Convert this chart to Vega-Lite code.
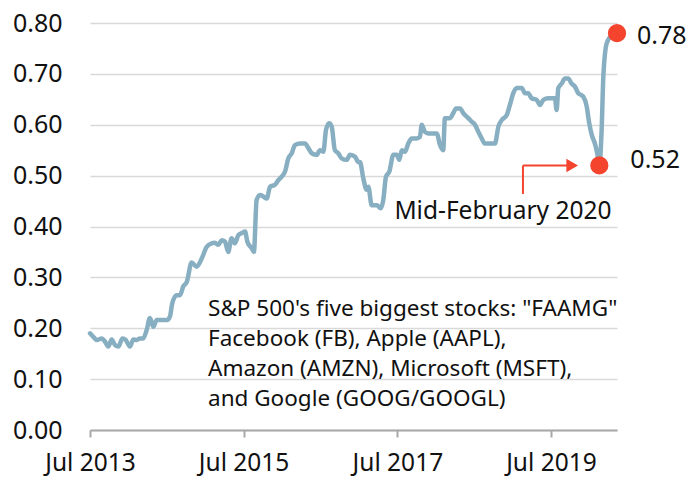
{
  "$schema": "https://vega.github.io/schema/vega-lite/v6.json",
  "width": 527,
  "height": 407,
  "autosize": {"type": "none"},
  "padding": {"left": 90, "top": 23, "right": 73, "bottom": 48},
  "background": "white",
  "config": {
    "view": {"stroke": null},
    "font": "Noto Sans",
    "axis": {"labelFont": "Noto Sans", "labelColor": "#111111"}
  },
  "datasets": {
    "series": [
      {"d":"2013-07-01","v":0.19},{"d":"2013-07-17","v":0.183},{"d":"2013-08-02","v":0.177},{"d":"2013-08-26","v":0.18},
      {"d":"2013-09-10","v":0.174},{"d":"2013-09-26","v":0.164},{"d":"2013-10-12","v":0.178},{"d":"2013-10-28","v":0.167},
      {"d":"2013-11-13","v":0.164},{"d":"2013-12-02","v":0.18},{"d":"2013-12-18","v":0.177},{"d":"2014-01-07","v":0.164},
      {"d":"2014-01-23","v":0.178},{"d":"2014-02-08","v":0.177},{"d":"2014-02-24","v":0.18},{"d":"2014-03-11","v":0.18},
      {"d":"2014-03-27","v":0.196},{"d":"2014-04-12","v":0.22},{"d":"2014-04-28","v":0.203},{"d":"2014-05-14","v":0.216},
      {"d":"2014-06-14","v":0.216},{"d":"2014-07-01","v":0.216},{"d":"2014-07-16","v":0.223},{"d":"2014-07-27","v":0.249},
      {"d":"2014-08-17","v":0.265},{"d":"2014-09-02","v":0.265},{"d":"2014-09-17","v":0.282},{"d":"2014-10-04","v":0.291},
      {"d":"2014-10-27","v":0.329},{"d":"2014-11-20","v":0.321},{"d":"2014-12-14","v":0.337},{"d":"2015-01-07","v":0.36},
      {"d":"2015-01-30","v":0.367},{"d":"2015-02-15","v":0.368},{"d":"2015-03-03","v":0.364},{"d":"2015-03-19","v":0.373},
      {"d":"2015-04-04","v":0.37},{"d":"2015-04-19","v":0.35},{"d":"2015-05-05","v":0.377},{"d":"2015-05-21","v":0.367},
      {"d":"2015-06-06","v":0.383},{"d":"2015-06-22","v":0.387},{"d":"2015-07-08","v":0.39},{"d":"2015-07-19","v":0.37},
      {"d":"2015-08-09","v":0.357},{"d":"2015-08-19","v":0.35},{"d":"2015-09-01","v":0.452},{"d":"2015-09-17","v":0.462},
      {"d":"2015-10-03","v":0.459},{"d":"2015-10-19","v":0.455},{"d":"2015-11-04","v":0.478},{"d":"2015-11-27","v":0.482},
      {"d":"2015-12-13","v":0.491},{"d":"2015-12-29","v":0.498},{"d":"2016-01-14","v":0.508},{"d":"2016-01-30","v":0.534},
      {"d":"2016-02-15","v":0.544},{"d":"2016-03-01","v":0.56},{"d":"2016-03-25","v":0.563},{"d":"2016-04-18","v":0.563},
      {"d":"2016-05-04","v":0.554},{"d":"2016-05-20","v":0.544},{"d":"2016-06-13","v":0.541},{"d":"2016-06-28","v":0.55},
      {"d":"2016-07-14","v":0.547},{"d":"2016-07-27","v":0.59},{"d":"2016-08-11","v":0.603},{"d":"2016-08-23","v":0.596},
      {"d":"2016-09-07","v":0.55},{"d":"2016-09-23","v":0.544},{"d":"2016-10-09","v":0.534},{"d":"2016-11-02","v":0.531},
      {"d":"2016-11-18","v":0.541},{"d":"2016-12-12","v":0.537},{"d":"2016-12-27","v":0.527},{"d":"2017-01-04","v":0.527},
      {"d":"2017-01-20","v":0.495},{"d":"2017-02-05","v":0.472},{"d":"2017-02-13","v":0.478},{"d":"2017-03-01","v":0.442},
      {"d":"2017-03-25","v":0.442},{"d":"2017-04-13","v":0.436},{"d":"2017-04-25","v":0.452},{"d":"2017-05-08","v":0.498},
      {"d":"2017-05-24","v":0.508},{"d":"2017-06-12","v":0.541},{"d":"2017-06-28","v":0.541},{"d":"2017-07-10","v":0.531},
      {"d":"2017-07-22","v":0.55},{"d":"2017-08-06","v":0.547},{"d":"2017-08-22","v":0.563},{"d":"2017-09-07","v":0.573},
      {"d":"2017-10-01","v":0.573},{"d":"2017-10-16","v":0.576},{"d":"2017-10-25","v":0.6},{"d":"2017-11-09","v":0.586},
      {"d":"2017-11-25","v":0.583},{"d":"2018-01-04","v":0.583},{"d":"2018-01-20","v":0.56},{"d":"2018-02-04","v":0.55},
      {"d":"2018-02-12","v":0.613},{"d":"2018-03-08","v":0.613},{"d":"2018-03-24","v":0.623},{"d":"2018-04-06","v":0.632},
      {"d":"2018-04-25","v":0.632},{"d":"2018-05-10","v":0.623},{"d":"2018-06-03","v":0.613},{"d":"2018-06-19","v":0.606},
      {"d":"2018-07-05","v":0.6},{"d":"2018-07-21","v":0.586},{"d":"2018-08-06","v":0.573},{"d":"2018-08-21","v":0.563},
      {"d":"2018-10-08","v":0.563},{"d":"2018-10-24","v":0.596},{"d":"2018-11-09","v":0.609},{"d":"2018-12-03","v":0.619},
      {"d":"2018-12-18","v":0.639},{"d":"2019-01-03","v":0.662},{"d":"2019-01-19","v":0.672},{"d":"2019-02-12","v":0.672},
      {"d":"2019-02-28","v":0.662},{"d":"2019-03-15","v":0.662},{"d":"2019-03-31","v":0.652},{"d":"2019-04-24","v":0.649},
      {"d":"2019-05-10","v":0.639},{"d":"2019-05-26","v":0.649},{"d":"2019-06-18","v":0.652},{"d":"2019-07-20","v":0.652},
      {"d":"2019-07-28","v":0.629},{"d":"2019-08-05","v":0.672},{"d":"2019-08-21","v":0.681},{"d":"2019-09-06","v":0.691},
      {"d":"2019-09-21","v":0.691},{"d":"2019-10-07","v":0.681},{"d":"2019-10-23","v":0.675},{"d":"2019-11-08","v":0.662},
      {"d":"2019-11-24","v":0.658},{"d":"2019-12-02","v":0.655},{"d":"2019-12-18","v":0.636},{"d":"2019-12-30","v":0.603},
      {"d":"2020-01-11","v":0.58},{"d":"2020-01-26","v":0.563},{"d":"2020-02-06","v":0.544},{"d":"2020-02-16","v":0.52},
      {"d":"2020-02-27","v":0.59},{"d":"2020-03-06","v":0.694},{"d":"2020-03-22","v":0.76},{"d":"2020-04-15","v":0.776},
      {"d":"2020-05-10","v":0.78}
    ],
    "points": [
      {"d":"2020-02-16","v":0.52,"label":"0.52"},
      {"d":"2020-05-10","v":0.78,"label":"0.78"}
    ],
    "arrow": [
      {"d":"2019-02-18","d2":"2019-10-10","v":0.52,"v0":0.464}
    ],
    "notes": [
      {"d":"2018-11-15","v":0.4285,"text":"Mid-February 2020"}
    ],
    "legend": [
      {"d":"2015-01-13","v":0.224,"text":["S&P 500's five biggest stocks: \"FAAMG\"","Facebook (FB), Apple (AAPL),","Amazon (AMZN), Microsoft (MSFT),","and Google (GOOG/GOOGL)"]}
    ]
  },
  "layer": [
    {
      "data": {"name": "series"},
      "mark": {"type": "line", "color": "#88afc1", "strokeWidth": 4.5, "strokeJoin": "round", "strokeCap": "round", "interpolate": "monotone"},
      "encoding": {
        "x": {
          "field": "d", "type": "temporal",
          "scale": {"domain": [{"year": 2013, "month": 7, "date": 1}, {"year": 2020, "month": 5, "date": 10}]},
          "axis": {
            "title": null,
            "values": [{"year": 2013, "month": 7, "date": 1}, {"year": 2015, "month": 7, "date": 1}, {"year": 2017, "month": 7, "date": 1}, {"year": 2019, "month": 7, "date": 1}],
            "format": "%b %Y",
            "grid": false,
            "domainColor": "#a8a8a8", "domainWidth": 2,
            "tickColor": "#a8a8a8", "tickWidth": 2, "tickSize": 7,
            "labelFontSize": 24.5, "labelPadding": 14, "labelFlush": false
          }
        },
        "y": {
          "field": "v", "type": "quantitative",
          "scale": {"domain": [0, 0.8], "nice": false, "zero": true},
          "axis": {
            "title": null,
            "values": [0, 0.1, 0.2, 0.3, 0.4, 0.5, 0.6, 0.7, 0.8],
            "format": ".2f",
            "domain": false, "ticks": false,
            "gridColor": "#d9d9d9", "gridWidth": 1.5,
            "labelFontSize": 25, "labelPadding": 28
          }
        }
      }
    },
    {
      "data": {"name": "arrow"},
      "mark": {"type": "rule", "color": "#f4442e", "strokeWidth": 2},
      "encoding": {
        "x": {"field": "d", "type": "temporal"},
        "y": {"field": "v", "type": "quantitative"},
        "y2": {"field": "v0"}
      }
    },
    {
      "data": {"name": "arrow"},
      "mark": {"type": "rule", "color": "#f4442e", "strokeWidth": 2},
      "encoding": {
        "x": {"field": "d", "type": "temporal"},
        "x2": {"field": "d2"},
        "y": {"field": "v", "type": "quantitative"}
      }
    },
    {
      "data": {"name": "arrow"},
      "mark": {"type": "point", "shape": "triangle-right", "filled": true, "color": "#f4442e", "size": 180, "opacity": 1},
      "encoding": {
        "x": {"field": "d2", "type": "temporal"},
        "y": {"field": "v", "type": "quantitative"}
      }
    },
    {
      "data": {"name": "points"},
      "mark": {"type": "circle", "color": "#f4442e", "size": 330, "opacity": 1},
      "encoding": {
        "x": {"field": "d", "type": "temporal"},
        "y": {"field": "v", "type": "quantitative"}
      }
    },
    {
      "data": {"name": "points"},
      "transform": [{"filter": "datum.label == '0.78'"}],
      "mark": {"type": "text", "align": "left", "baseline": "middle", "fontSize": 25, "color": "#111111", "dx": 20, "dy": 3},
      "encoding": {
        "x": {"field": "d", "type": "temporal"},
        "y": {"field": "v", "type": "quantitative"},
        "text": {"field": "label"}
      }
    },
    {
      "data": {"name": "points"},
      "transform": [{"filter": "datum.label == '0.52'"}],
      "mark": {"type": "text", "align": "left", "baseline": "middle", "fontSize": 25, "color": "#111111", "dx": 31, "dy": -5},
      "encoding": {
        "x": {"field": "d", "type": "temporal"},
        "y": {"field": "v", "type": "quantitative"},
        "text": {"field": "label"}
      }
    },
    {
      "data": {"name": "notes"},
      "mark": {"type": "text", "align": "center", "baseline": "middle", "fontSize": 24.5, "color": "#111111"},
      "encoding": {
        "x": {"field": "d", "type": "temporal"},
        "y": {"field": "v", "type": "quantitative"},
        "text": {"field": "text"}
      }
    },
    {
      "data": {"name": "legend"},
      "mark": {"type": "text", "align": "left", "baseline": "alphabetic", "fontSize": 22.5, "lineHeight": 30, "color": "#111111"},
      "encoding": {
        "x": {"field": "d", "type": "temporal"},
        "y": {"field": "v", "type": "quantitative"},
        "text": {"field": "text"}
      }
    }
  ]
}
